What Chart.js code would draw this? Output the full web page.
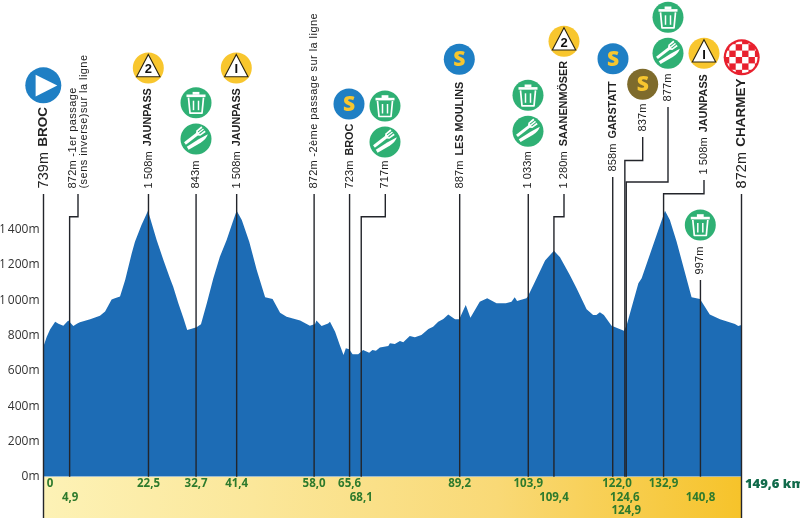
<!DOCTYPE html>
<html><head><meta charset="utf-8">
<style>html,body{margin:0;padding:0;background:#fff}canvas{display:block}</style>
<script src="https://cdn.jsdelivr.net/npm/chart.js@4"></script>
</head><body><canvas id="c" width="800" height="518"></canvas>
<script>
const profileKm = [0,0.7,1.4,2.5,3.2,4.25,5.3,6.4,7.25,7.8,10,12.1,13.2,14.6,15.3,16.4,17.5,18.9,19.6,21,22.4,23.2,24.25,25.7,27.1,27.8,28.9,30,30.8,31.75,32.8,33.75,35,36.4,37.8,39.25,40.7,41.4,42.5,44.1,45.7,47.5,49.1,50.7,52.1,55,57.1,58.2,58.5,59.6,61,61.4,62.5,63.5,64.3,64.8,65.5,66.25,67.45,68.5,69.8,70.5,71.25,72.1,73.9,74.25,75.3,76.4,77.1,78.5,79.6,81,82.5,83.5,84.6,85.7,86.75,88.2,89.1,90.5,91.5,93.5,95.1,97.1,99.1,100.3,101,101.5,103.5,103.8,105,107.5,109.4,110.7,112.8,114.25,116.4,117.8,118.5,119.25,120.1,121.75,124.4,125,127.5,128.2,133.2,134.25,135.7,138.9,140.7,142.8,145,148.2,148.9,149.6];
const profileM = [739,794,835,879,867,856,885,854,869,875,892,913,936,1005,1011,1021,1115,1266,1332,1427,1508,1436,1342,1228,1125,1077,983,898,832,839,847,864,983,1125,1247,1342,1455,1508,1455,1332,1172,1017,1007,930,907,885,856,866,885,854,869,879,822,747,690,728,722,694,694,718,703,718,714,733,741,756,752,769,762,798,790,803,837,850,879,894,920,892,892,973,901,992,1011,983,983,992,1017,996,1011,1021,1087,1225,1281,1244,1143,1068,949,917,917,932,917,856,828,860,1096,1125,1508,1455,1332,1017,1007,920,892,866,854,860];
const yTickValues = [0,200,400,600,800,1000,1200,1400];
const stopKm = [0,5.6,22.5,32.7,41.4,58,65.6,68.1,89.2,103.9,109.4,122,124.6,124.9,132.9,140.8,149.6];
const stopKmLabels = ['0','4,9','22,5','32,7','41,4','58,0','65,6','68,1','89,2','103,9','109,4','122,0','124,6','124,9','132,9','140,8','149,6 km'];
const stopAltitudes = ['739m','872m','1 508m','843m','1 508m','872m','723m','717m','887m','1 033m','1 280m','858m','837m','877m','1 508m','997m','872m'];
const stopNames = ['BROC','-1er passage','JAUNPASS','','JAUNPASS','-2ème passage sur la ligne','BROC','','LES MOULINS','','SAANENMÖSER','GARSTATT','','','JAUNPASS','','CHARMEY'];

const PX_PER_M = 0.1764, BASE = 476.7;
const FONT = '"Liberation Sans", Arial, sans-serif';
const UI = '"Open Sans", sans-serif';

// leader geometry and icon placement, in page pixels, one entry per stop
const stopLayout = [
 {top:194,big:1,full:1,row:0,dx:6.5,icons:[['start',43.3,85.3]]},
 {top:194,elbow:216.7,tx:78,row:1,dx:0.6,icons:[],second:'(sens inverse)sur la ligne'},
 {top:194,row:0,icons:[['cat2',148.3,68]]},
 {top:194,row:0,icons:[['trash',196,102.7],['food',196,139]]},
 {top:194,row:0,icons:[['cat1',236.3,68]]},
 {top:194,row:0,icons:[]},
 {top:194,row:0,icons:[['sprint',349,104]]},
 {top:194,elbow:216.7,tx:385.3,row:1,icons:[['trash',385,106],['food',385,142]]},
 {top:194,row:0,icons:[['sprint',459.3,59.3]]},
 {top:194,row:0,icons:[['trash',528,95.3],['food',528,131.3]]},
 {top:194,elbow:216.7,tx:564,row:1,icons:[['cat2',564,41.3]]},
 {top:177,row:0,dx:4.3,icons:[['sprint',613,58.7]]},
 {top:137,elbow:160.5,tx:642.7,row:1,icons:[['sprintB',642.7,84.3]]},
 {top:107,elbow:182,tx:668,row:2,icons:[['trash',668,17.3],['food',668,53.3]]},
 {top:180,elbow:193.7,tx:704,row:0,icons:[['cat1',704,53.3]]},
 {top:280,row:1,icons:[['trash',700.3,225]]},
 {top:194,big:1,full:1,row:-1,icons:[['finish',741.7,57.3]]}
];

function circle(ctx,x,y,r,col){ctx.fillStyle=col;ctx.beginPath();ctx.arc(x,y,r,0,Math.PI*2);ctx.fill();}

function drawIcon(ctx,type,x,y){
  ctx.save();ctx.translate(x,y);
  if(type==='start'){
    circle(ctx,0,0,18,'#1F7FC4');
    ctx.fillStyle='#fff';ctx.beginPath();ctx.moveTo(-7.7,-10.5);ctx.lineTo(14,0.3);ctx.lineTo(-7.7,11.3);ctx.closePath();ctx.fill();
  } else if(type==='finish'){
    ctx.beginPath();ctx.arc(0,0,18,0,Math.PI*2);ctx.fillStyle='#E8202E';ctx.fill();ctx.save();ctx.beginPath();ctx.arc(0,0,15.8,0,Math.PI*2);ctx.clip();
    ctx.fillStyle='#fff';const s=6.4;
    for(let i=-3;i<3;i++)for(let j=-3;j<3;j++)if((i+j+60)%2===0)ctx.fillRect(i*s+0.4,j*s-0.3,s,s);
    ctx.restore();
  } else if(type==='sprint'||type==='sprintB'){
    circle(ctx,0,0,15.5,type==='sprint'?'#1F7FC4':'#7E6B2C');
    ctx.fillStyle='#F7C62F';ctx.font='800 21px '+UI;ctx.textAlign='center';ctx.textBaseline='middle';ctx.fillText('S',0,1);
  } else if(type==='cat1'||type==='cat2'){
    circle(ctx,0,0,15.5,'#F8C62E');
    ctx.fillStyle='#fff';ctx.strokeStyle='#2b2410';ctx.lineWidth=1.1;ctx.lineJoin='miter';
    ctx.beginPath();ctx.moveTo(0,-13.5);ctx.lineTo(11.7,8.7);ctx.lineTo(-11.7,8.7);ctx.closePath();ctx.fill();ctx.stroke();
    ctx.fillStyle='#111';ctx.font='bold 13px '+FONT;ctx.textAlign='center';ctx.textBaseline='middle';
    ctx.fillText(type==='cat2'?'2':'I',0,1.8);
  } else if(type==='trash'){
    circle(ctx,0,0,15.5,'#2FB074');
    ctx.strokeStyle='#fff';ctx.fillStyle='#fff';ctx.lineWidth=1.7;ctx.lineJoin='round';
    ctx.fillRect(-9.5,-8.2,19,2.6);
    ctx.fillRect(-3.4,-10.8,6.8,2.8);
    ctx.beginPath();ctx.moveTo(-7.5,-5);ctx.lineTo(-6,10.5);ctx.lineTo(6,10.5);ctx.lineTo(7.5,-5);ctx.stroke();
    ctx.lineWidth=1.5;
    [-2.5,2.5].forEach(d=>{ctx.beginPath();ctx.moveTo(d,-2);ctx.lineTo(d,7.5);ctx.stroke();});
  } else if(type==='food'){
    circle(ctx,0,0,15.5,'#2FB074');
    ctx.fillStyle='#fff';
    // fork, upper left, head toward the upper right
    ctx.save();ctx.rotate(Math.PI*0.29);ctx.translate(-3.2,0);
    ctx.fillRect(-1.5,-4,3,15.5);
    ctx.beginPath();ctx.moveTo(-3.6,-12);ctx.lineTo(3.6,-12);ctx.lineTo(3.2,-5.5);ctx.lineTo(1.5,-3.5);ctx.lineTo(-1.5,-3.5);ctx.lineTo(-3.2,-5.5);ctx.closePath();ctx.fill();
    ctx.fillStyle='#2FB074';ctx.fillRect(-1.7,-12.5,1,6.5);ctx.fillRect(0.7,-12.5,1,6.5);
    ctx.restore();
    // knife, lower right
    ctx.save();ctx.rotate(Math.PI*0.32);ctx.translate(3.4,0);
    ctx.beginPath();ctx.moveTo(-1.7,12);ctx.lineTo(1.7,12);ctx.lineTo(2.2,-2);ctx.quadraticCurveTo(2.2,-9,-1,-12.5);ctx.lineTo(-1.7,-2);ctx.closePath();ctx.fill();
    ctx.restore();
  }
  ctx.restore();
}

// rotated text: pieces laid out upward from page position (x, bottom)
function upText(ctx,x,bottom,pieces){
  ctx.save();ctx.translate(x,bottom);ctx.rotate(-Math.PI/2);
  ctx.textAlign='left';ctx.textBaseline='middle';
  let u=0;
  pieces.forEach(p=>{
    ctx.font=p.font;ctx.fillStyle=p.color||'#222';ctx.letterSpacing=p.ls||'0px';
    ctx.fillText(p.text,u,0);
    u+=ctx.measureText(p.text).width+(p.gap||0);
  });
  ctx.restore();
}

const bandPlugin = {
  id:'band',
  beforeDatasetsDraw(chart){
    const {ctx,chartArea:a,height}=chart;
    const sx=chart.scales.x;
    const l=sx.getPixelForValue(0),r=sx.getPixelForValue(149.6);
    const g=ctx.createLinearGradient(l,0,r,0);
    g.addColorStop(0,'#FDF2B6');g.addColorStop(0.3,'#FBE79A');g.addColorStop(0.65,'#F9D976');g.addColorStop(1,'#F6C32A');
    ctx.fillStyle=g;ctx.fillRect(l,a.bottom,r-l,height-a.bottom);
  }
};

const stopsPlugin = {
  id:'stops',
  afterDatasetsDraw(chart){
    const {ctx,height}=chart;
    const sx=chart.scales.x, sy=chart.scales.y;
    const y0=sy.getPixelForValue(0);
    const noteFont='11px '+FONT;
    stopKm.forEach((km,i)=>{
      const L=stopLayout[i], x=sx.getPixelForValue(km);
      const tx=L.tx!==undefined?L.tx:x;
      ctx.strokeStyle='#23252b';ctx.lineWidth=1.4;ctx.lineJoin='miter';
      ctx.beginPath();
      ctx.moveTo(x,L.full?height:y0);
      if(L.elbow!==undefined){ctx.lineTo(x,L.elbow);ctx.lineTo(tx,L.elbow);}
      ctx.lineTo(tx,L.top);
      ctx.stroke();
      const bottom=L.top-5.5;
      const altFont=L.big?'14.5px '+FONT:'11px '+FONT;
      const nameFont=L.big?'bold 13.5px '+FONT:'bold 10.8px '+FONT;
      if(L.second){
        upText(ctx,tx-5.5,bottom,[{text:stopAltitudes[i],font:altFont,gap:3.5,ls:'0.2px'},{text:stopNames[i],font:noteFont,ls:'0.45px'}]);
        upText(ctx,tx+6,bottom,[{text:L.second,font:noteFont,ls:'0.45px'}]);
      } else if(i===5){
        upText(ctx,tx,bottom,[{text:stopAltitudes[i],font:altFont,gap:3.5,ls:'0.2px'},{text:stopNames[i],font:noteFont,ls:'0.45px'}]);
      } else {
        upText(ctx,tx,bottom,[{text:stopAltitudes[i],font:altFont,gap:5,ls:'0.1px'},{text:stopNames[i],font:nameFont}]);
      }
      ctx.textAlign='center';ctx.textBaseline='middle';
      ctx.font='700 11.5px '+UI;ctx.fillStyle='#2E7A2C';
      if(L.row>=0){
        ctx.fillText(stopKmLabels[i],x+(L.dx||0),y0+7.5+L.row*13.5);
      } else {
        ctx.textAlign='left';ctx.font='800 13px '+UI;ctx.fillStyle='#116B4B';
        ctx.fillText(stopKmLabels[i],x+3.5,y0+7.5);
      }
      L.icons.forEach(ic=>drawIcon(ctx,ic[0],ic[1],ic[2]));
    });
  }
};

new Chart(document.getElementById('c'),{
  type:'line',
  data:{datasets:[{
    data:profileKm.map((k,i)=>({x:k,y:profileM[i]})),
    fill:'origin',backgroundColor:'#1D6CB5',borderWidth:0,pointRadius:0,tension:0
  }]},
  options:{
    responsive:false,animation:false,
    layout:{padding:{left:0.5,right:58.5,top:0,bottom:41.3}},
    plugins:{legend:{display:false},tooltip:{enabled:false}},
    scales:{
      x:{type:'linear',min:0,max:149.6,display:false},
      y:{type:'linear',min:0,max:BASE/PX_PER_M,
        grid:{display:false,drawTicks:false},border:{display:false},
        afterBuildTicks(s){s.ticks=yTickValues.map(v=>({value:v}));},
        afterFit(s){s.width=43;s.paddingTop=0;s.paddingBottom=0;},
        ticks:{padding:4,color:'#333',font:{family:'"Open Sans"',size:12},autoSkip:false,
          callback(v){return (v>=1000?Math.floor(v/1000)+'\u2009'+String(v%1000).padStart(3,'0'):v)+'m';}}
      }
    }
  },
  plugins:[bandPlugin,stopsPlugin]
});
</script></body></html>
